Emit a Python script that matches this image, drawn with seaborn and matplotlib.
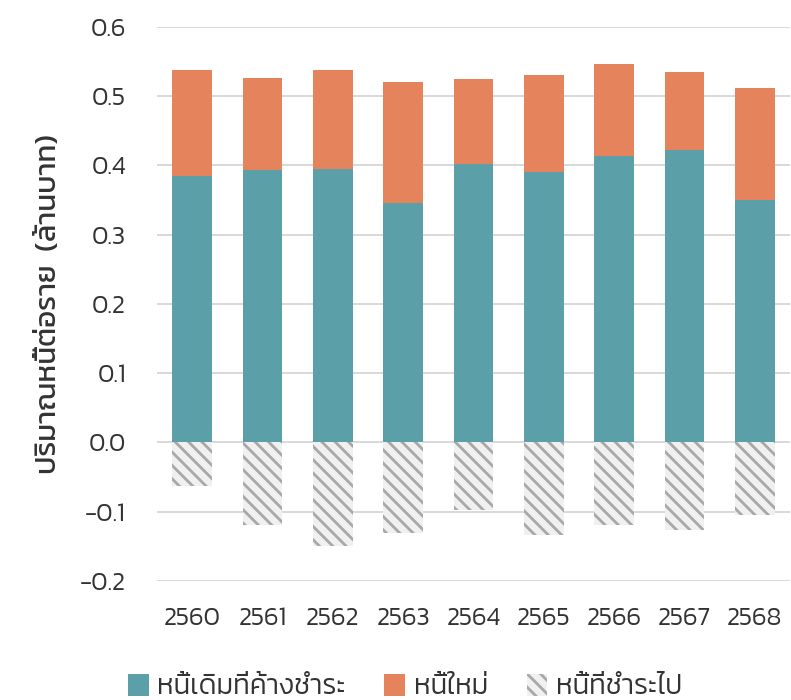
import matplotlib
matplotlib.use("Agg")
import matplotlib.pyplot as plt
from matplotlib.patches import Patch
import seaborn as sns
import pandas as pd

# Debt per borrower (million baht) by year
years = ["2560", "2561", "2562", "2563", "2564", "2565", "2566", "2567", "2568"]
outstanding_debt = [0.385, 0.393, 0.395, 0.346, 0.402, 0.390, 0.414, 0.423, 0.350]
new_debt = [0.153, 0.134, 0.143, 0.174, 0.123, 0.140, 0.132, 0.112, 0.162]
repaid_debt = [-0.063, -0.119, -0.149, -0.130, -0.097, -0.134, -0.119, -0.127, -0.104]
yticks = [-0.2, -0.1, 0.0, 0.1, 0.2, 0.3, 0.4, 0.5, 0.6]

legend_labels = ["หนี้เดิมที่ค้างชำระ", "หนี้ใหม่", "หนี้ที่ชำระไป"]
ylabel = "ปริมาณหนี้ต่อราย  (ล้านบาท)"

TEAL = "#5BA0A8"
ORANGE = "#E5835D"
HATCH_BG = "#F0F0F0"
HATCH_LINE = "#A8A8A8"
GRID = "#D9D9D9"
TEXT = "#333333"

sns.set_theme(style="white")
plt.rcParams["font.family"] = ["Kanit", "DejaVu Sans"]
plt.rcParams["font.weight"] = 300
plt.rcParams["hatch.linewidth"] = 2.5
plt.rcParams["axes.unicode_minus"] = False

df = pd.DataFrame({
    "year": years,
    "outstanding": outstanding_debt,
    "new": new_debt,
    "repaid": repaid_debt,
})
df["total"] = df["outstanding"] + df["new"]

DPI = 80
fig = plt.figure(figsize=(791 / DPI, 700 / DPI), dpi=DPI)
ax = fig.add_axes([157 / 791, 1 - 581 / 700, 633 / 791, (581 - 27) / 700])

for t in yticks:
    ax.axhline(t, color=GRID, lw=1.8, zorder=0)

bar_w = 0.56
sns.barplot(data=df, x="year", y="total", order=years, color=ORANGE,
            saturation=1, width=bar_w, errorbar=None, linewidth=0, ax=ax, zorder=2)
sns.barplot(data=df, x="year", y="outstanding", order=years, color=TEAL,
            saturation=1, width=bar_w, errorbar=None, linewidth=0, ax=ax, zorder=3)
sns.barplot(data=df, x="year", y="repaid", order=years, color=HATCH_BG,
            saturation=1, width=bar_w, errorbar=None, linewidth=0,
            edgecolor=HATCH_LINE, hatch="\\\\", ax=ax, zorder=3)

ax.set_xlim(-0.5, len(years) - 0.5)
ax.set_ylim(-0.2, 0.6)
ax.set_yticks(yticks)
ax.set_yticklabels([f"{t:.1f}" for t in yticks])
ax.tick_params(axis="y", length=0, pad=28, labelsize=23, labelcolor=TEXT)
ax.tick_params(axis="x", length=0, pad=23, labelsize=23, labelcolor=TEXT)
ax.set_xlabel("")
ax.set_ylabel(ylabel, fontsize=26.5, color=TEXT, labelpad=16)
for s in ax.spines.values():
    s.set_visible(False)

handles = [
    Patch(facecolor=TEAL, edgecolor="none"),
    Patch(facecolor=ORANGE, edgecolor="none"),
    Patch(facecolor=HATCH_BG, edgecolor=HATCH_LINE, hatch="\\\\", linewidth=0),
]
fig.legend(handles, legend_labels, loc="center", bbox_to_anchor=(405 / 791, 1 - 687 / 700),
           ncol=3, frameon=False, handlelength=0.75, handleheight=0.85, handletextpad=0.3,
           columnspacing=1.4, prop={"size": 25, "weight": 300}, labelcolor=TEXT,
           borderpad=0, borderaxespad=0)

fig.savefig("out.png", dpi=DPI)
